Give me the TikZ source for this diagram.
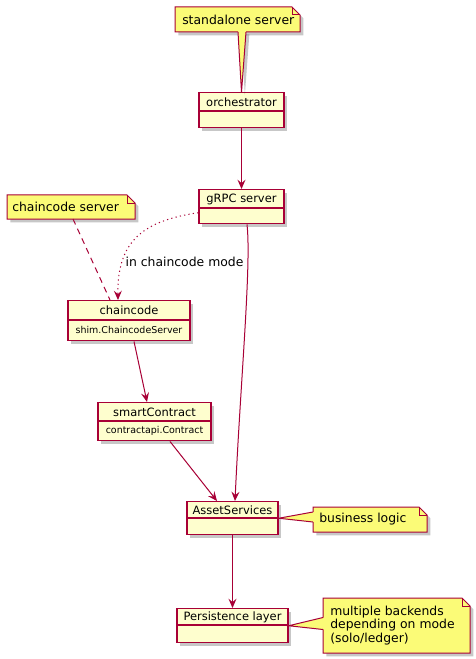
\documentclass[tikz,border=0pt]{standalone}
\usepackage{fontspec}
\setmainfont{DejaVu Sans}
\usetikzlibrary{shadows,arrows.meta,calc}
\definecolor{umlred}{HTML}{A80036}
\definecolor{classfill}{HTML}{FEFECE}
\definecolor{notefill}{HTML}{FBFB77}
\newcommand\umltitlefont{\fontsize{8.6}{10}\selectfont}
\newcommand\umlmemberfont{\fontsize{7.1}{8.5}\selectfont}
\newcommand\umlnotefont{\fontsize{9.3}{10.3}\selectfont}
\tikzset{
  umlshadow/.style={drop shadow={shadow xshift=2.5pt, shadow yshift=-2.5pt, fill=black, opacity=0.22}},
  classbox/.style={draw=umlred, fill=classfill, line width=1.1pt, inner sep=0pt, umlshadow},
  divider/.style={draw=umlred, line width=1.1pt},
  notebody/.style={draw=umlred, fill=notefill, line width=0.75pt, line join=miter},
  conn/.style={draw=umlred, line width=0.75pt, -{Stealth[length=7pt,width=6pt,inset=2.6pt]}},
  dotconn/.style={conn, dash pattern=on 0.9pt off 2.4pt},
  noteline/.style={draw=umlred, line width=0.75pt, dash pattern=on 4.5pt off 3.5pt},
  ttext/.style={font=\umltitlefont, inner sep=0pt},
  mtext/.style={font=\umlmemberfont, inner sep=0pt},
  ntext/.style={font=\umlnotefont, inner sep=0pt, align=left},
}
% #1 name, #2 cx, #3 top, #4 width, #5 height, #6 divider offset, #7 title, #8 member
\newcommand\umlclass[8]{%
  \node[classbox, minimum width=#4*0.75pt, minimum height=#5*0.75pt, anchor=north] (#1) at (#2,#3) {};
  \draw[divider] ($(#1.north west)+(0,#6)$) -- ($(#1.north east)+(0,#6)$);
  \node[ttext] (#1-t) at ($(#1.north)+(0,#6/2+0.5)$) {#7};
  \node[mtext] (#1-m) at ($(#1.north)+(0,#6/2+#5/2)$) {#8};
}
% #1 name, #2 x1, #3 y1, #4 x2, #5 y2, #6 text padding, #7 text
\newcommand\umlnote[7]{%
  \node[inner sep=0pt, outer sep=0pt, minimum width=(#4-#2)*0.75pt, minimum height=(#5-#3)*0.75pt, anchor=north west] (#1) at (#2,#3) {};
  \path[notebody, umlshadow] (#1.north west) -- ($(#1.north east)+(-8,0)$) -- ($(#1.north east)+(0,8)$) -- (#1.south east) -- (#1.south west) -- cycle;
  \draw[umlred, line width=0.75pt] ($(#1.north east)+(-8,0)$) |- ($(#1.north east)+(0,8)$);
  \node[ntext, anchor=west] (#1-t) at ($(#1.west)+(#6,0)$) {#7};
}
\begin{document}
\begin{tikzpicture}[x=0.75pt,y=-0.75pt]
\useasboundingbox[fill=white] (0,0) rectangle (475,659);

% notes
\umlnote{sa}{175}{7}{300}{32}{7}{standalone server}
\umlnote{ccs}{7}{195}{135}{219}{5}{chaincode server}
\umlnote{bl}{313}{507}{427}{532}{6}{business logic}
\umlnote{mb}{323}{598}{470}{653}{7}{multiple backends\\depending on mode\\(solo/ledger)}

% classes
\umlclass{orch}{241.5}{92}{85}{35}{19}{orchestrator}{}
\umlclass{grpc}{241.5}{189}{85}{34}{19}{gRPC server}{}
\umlclass{cc}{129}{300}{122}{40}{20}{chaincode}{shim.ChaincodeServer}
\umlclass{sc}{154.5}{402}{113}{38}{19}{smartContract}{contractapi.Contract}
\umlclass{as}{232.5}{501}{91}{33}{17}{AssetServices}{}
\umlclass{pl}{232.5}{608}{111}{34}{17}{Persistence layer}{}

% note tails
\path[fill=notefill, umlshadow] ($(sa.south)+(0.5,-1)$) -- ($(sa.south)+(8.5,-1)$) -- (orch.north) -- cycle;
\draw[umlred, line width=0.75pt] ($(sa.south)+(0.5,0)$) -- (orch.north) -- ($(sa.south)+(8.5,0)$);

\path[fill=notefill] ($(bl.west)+(1,-7.5)$) -- ($(bl.west)+(1,2.5)$) -- (as.east) -- cycle;
\draw[umlred, line width=0.75pt] ($(bl.west)+(0,-7.5)$) -- (as.east) -- ($(bl.west)+(0,2.5)$);

\path[fill=notefill] ($(mb.west)+(1,-8)$) -- ($(mb.west)+(1,4)$) -- (pl.east) -- cycle;
\draw[umlred, line width=0.75pt] ($(mb.west)+(0,-8)$) -- (pl.east) -- ($(mb.west)+(0,4)$);

\draw[noteline] ($(ccs.south)+(2,0)$) -- ($(cc.north)+(-19,0)$);

% connectors
\draw[conn] (orch.south) -- (grpc.north);
\draw[conn] ($(grpc.south)+(5.5,0)$) .. controls ($(grpc.south)+(10,40)$) and ($(as.north)+(8,-120)$) .. ($(as.north)+(2.5,0)$);
\draw[dotconn] ($(grpc.west)+(0,6)$) .. controls ($(grpc.west)+(-54,14)$) and ($(cc.north)+(-12,-60)$) .. ($(cc.north)+(-11,0)$);
\node[ntext] (lbl) at (184.5,262) {in chaincode mode};
\draw[conn] ($(cc.south)+(5,0)$) -- ($(sc.north)+(-7.5,0)$);
\draw[conn] ($(sc.south)+(15.5,0)$) -- ($(as.north)+(-15.5,0)$);
\draw[conn] (as.south) -- (pl.north);
\end{tikzpicture}
\end{document}
